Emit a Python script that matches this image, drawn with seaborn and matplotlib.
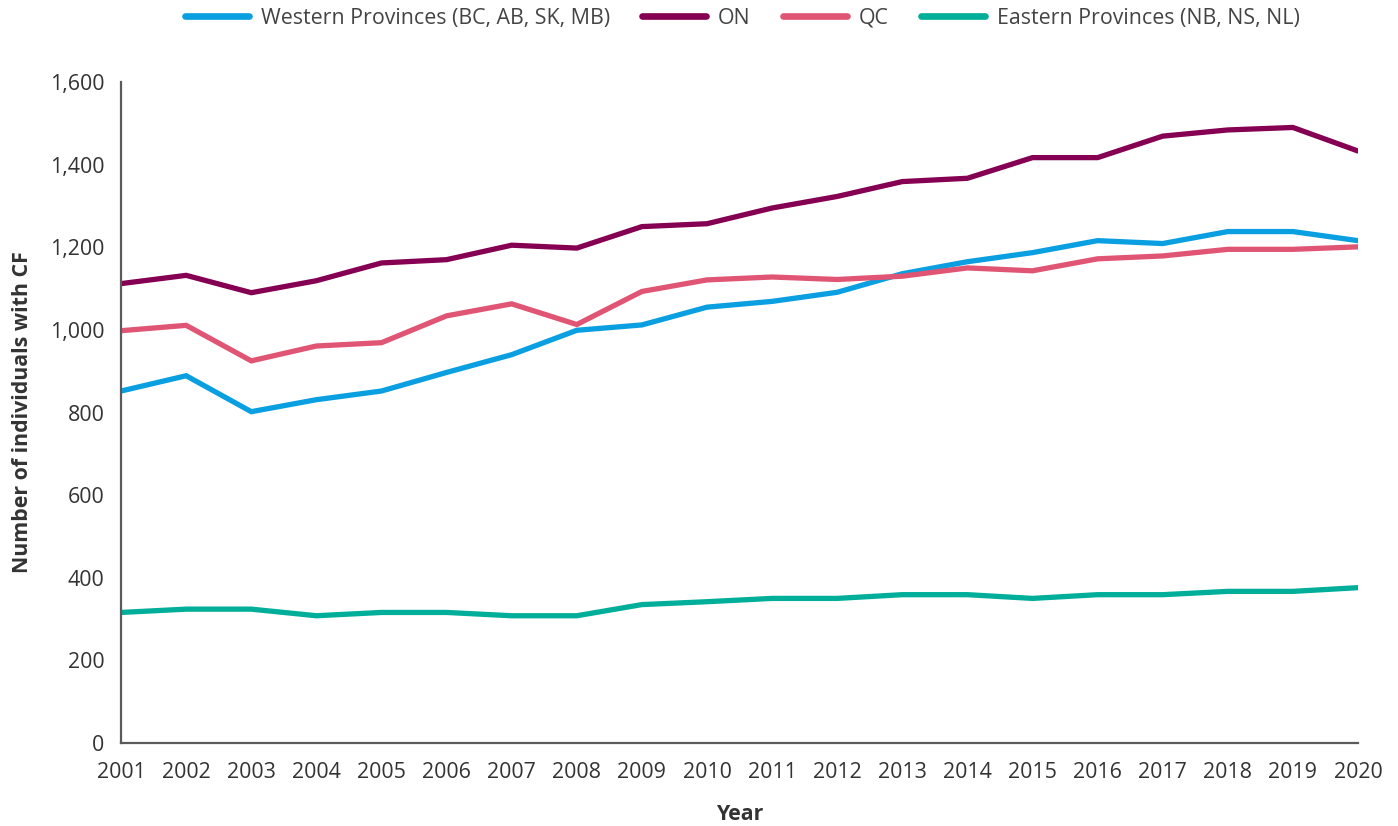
import pandas as pd
import seaborn as sns
import matplotlib.pyplot as plt
from matplotlib.ticker import FuncFormatter

years = list(range(2001, 2021))

western = [852, 889, 802, 831, 852, 897, 940, 999, 1012, 1055,
           1069, 1091, 1136, 1165, 1187, 1216, 1209, 1238, 1238, 1216]
ontario = [1112, 1132, 1090, 1119, 1162, 1170, 1205, 1198, 1250, 1257,
           1295, 1323, 1359, 1367, 1417, 1417, 1469, 1484, 1490, 1433]
quebec = [998, 1011, 925, 961, 969, 1034, 1063, 1013, 1093, 1121,
          1128, 1122, 1130, 1150, 1143, 1172, 1179, 1195, 1195, 1201]
eastern = [316, 324, 324, 308, 316, 316, 308, 308, 335, 342,
           350, 350, 359, 359, 350, 359, 359, 367, 367, 376]

series_names = ["Western Provinces (BC, AB, SK, MB)", "ON", "QC",
                "Eastern Provinces (NB, NS, NL)"]
colours = ["#0A9FE0", "#850052", "#E05574", "#00AE9A"]


def build_frame():
    df = pd.DataFrame({
        "year": years,
        series_names[0]: western,
        series_names[1]: ontario,
        series_names[2]: quebec,
        series_names[3]: eastern,
    })
    return pd.melt(df, id_vars=["year"], value_vars=series_names,
                   var_name="region", value_name="count")


if __name__ == "__main__":
    sns.set_style("white")
    plt.rcParams["font.family"] = ["Open Sans", "DejaVu Sans"]
    text_col = "#333333"
    axis_col = "#5a5a5a"
    fs = 15.4

    fig = plt.figure(figsize=(13.98, 8.26), dpi=100)
    ax = fig.add_axes([0.0866, 0.1005, 0.8848, 0.8002])

    data = build_frame()
    sns.lineplot(data=data, x="year", y="count", hue="region",
                 hue_order=series_names, palette=colours,
                 linewidth=3.8, ax=ax, legend=False)
    for line in ax.lines:
        line.set_solid_joinstyle("miter")
        line.set_solid_capstyle("round")

    ax.set_xlim(2001, 2020)
    ax.set_ylim(0, 1600)
    ax.set_xticks(years)
    ax.set_yticks(range(0, 1601, 200))
    ax.yaxis.set_major_formatter(FuncFormatter(lambda v, p: f"{int(v):,}"))

    for side in ["top", "right"]:
        ax.spines[side].set_visible(False)
    for side in ["left", "bottom"]:
        ax.spines[side].set_color(axis_col)
        ax.spines[side].set_linewidth(1.6)
    ax.tick_params(axis="both", direction="out", length=6, width=1.6,
                   color=axis_col, labelcolor=text_col, labelsize=fs)
    ax.tick_params(axis="y", pad=6)
    ax.tick_params(axis="x", pad=8)

    ax.set_xlabel("Year", fontsize=fs, fontweight="bold", color=text_col,
                  labelpad=15)
    ax.set_ylabel("Number of individuals with CF", fontsize=fs,
                  fontweight="bold", color=text_col, labelpad=12)

    handles = [plt.Line2D([], [], color=c, linewidth=4.8,
                          solid_capstyle="round") for c in colours]
    fig.legend(handles, series_names, loc="center", ncol=4,
               bbox_to_anchor=(0.531, 0.978), frameon=False, fontsize=fs,
               handlelength=3.0, columnspacing=1.5, handletextpad=0.55,
               labelcolor="#444444")

    fig.savefig("out.png", dpi=100)
